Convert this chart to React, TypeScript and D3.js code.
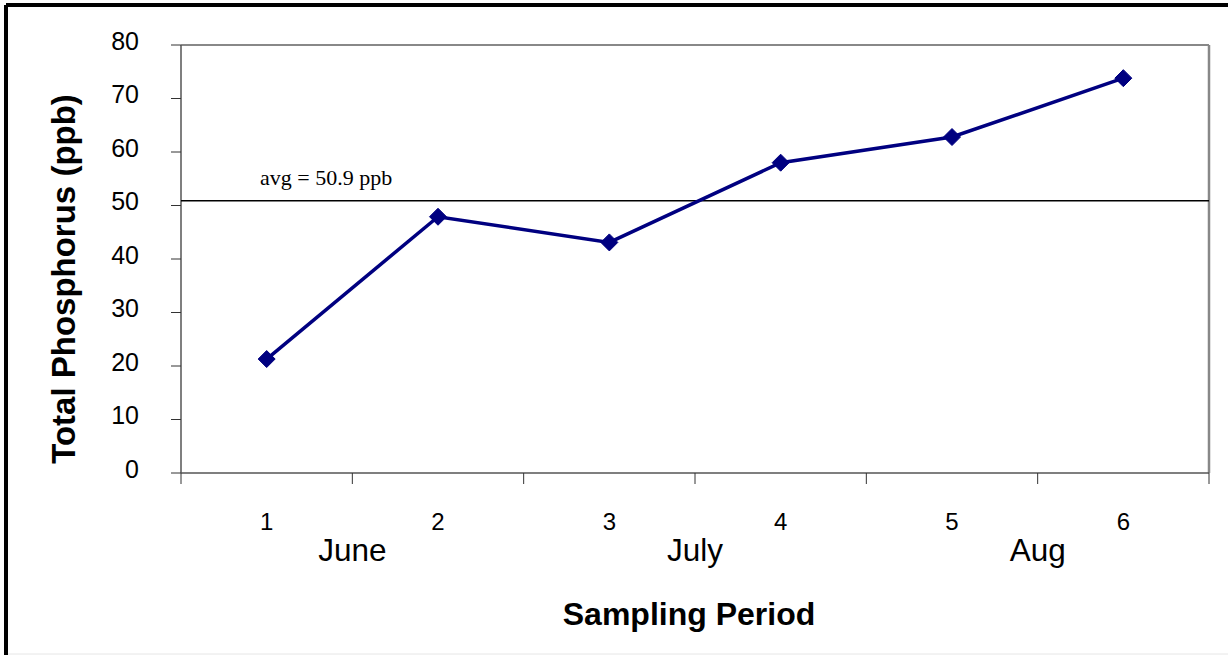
import React from "react";
import * as d3 from "d3";

const periods = ["1", "2", "3", "4", "5", "6"];
const phosphorus = [21.3, 47.9, 43.1, 58.0, 62.8, 73.8];
const months = ["June", "July", "Aug"];
const monthBoundaryIndex = [1, 3, 5];
const yTicks = [0, 10, 20, 30, 40, 50, 60, 70, 80];
const avgValue = 50.9;

export default function App() {
  const W = 1228, H = 655;
  const left = 181, right = 1209, top = 45, bottom = 473;
  const x = d3.scaleBand<string>().domain(periods).range([left, right]).padding(0);
  const y = d3.scaleLinear().domain([0, 80]).range([bottom, top]);
  const line = d3
    .line<number>()
    .x((_, i) => (x(periods[i]) as number) + x.bandwidth() / 2)
    .y((d) => y(d));
  const bw = x.bandwidth();
  const xTickPos = d3.range(periods.length + 1).map((i) => left + i * bw);
  const font = "Arial, 'Liberation Sans', sans-serif";

  return (
    <svg width={W} height={H} style={{ position: "absolute", left: 0, top: 0 }} fontFamily={font}>
      <rect x={0} y={0} width={W} height={H} fill="#fff" />
      {/* outer frame */}
      <line x1={6} y1={5} x2={W} y2={5} stroke="#000" strokeWidth={4} />
      <line x1={6} y1={5} x2={6} y2={H} stroke="#000" strokeWidth={4} />
      <line x1={8} y1={654} x2={W} y2={654} stroke="#e6e6e6" strokeWidth={1} />
      {/* plot frame */}
      <line x1={left} y1={top} x2={right} y2={top} stroke="#888" strokeWidth={2} />
      <line x1={right} y1={top} x2={right} y2={bottom} stroke="#888" strokeWidth={2.5} />
      <line x1={left} y1={top} x2={left} y2={bottom} stroke="#555" strokeWidth={1.5} />
      <line x1={left} y1={bottom} x2={right} y2={bottom} stroke="#555" strokeWidth={1.5} />
      {/* y ticks */}
      {yTicks.map((t) => (
        <g key={t}>
          <line x1={171} x2={left} y1={y(t)} y2={y(t)} stroke="#333" strokeWidth={1} />
          <text x={139} y={y(t) - 4} dy="0.35em" textAnchor="end" fontSize={25} fill="#000">
            {t}
          </text>
        </g>
      ))}
      {/* x ticks */}
      {xTickPos.map((p, i) => (
        <line key={i} x1={p} x2={p} y1={bottom} y2={bottom + 11} stroke="#333" strokeWidth={1} />
      ))}
      {periods.map((p) => (
        <text key={p} x={(x(p) as number) + bw / 2} y={530} textAnchor="middle" fontSize={24} fill="#000">
          {p}
        </text>
      ))}
      {months.map((m, i) => (
        <text key={m} x={left + monthBoundaryIndex[i] * bw} y={561} textAnchor="middle" fontSize={31.5} fill="#000">
          {m}
        </text>
      ))}
      {/* avg line */}
      <line x1={left} x2={right} y1={y(avgValue)} y2={y(avgValue)} stroke="#000" strokeWidth={1.5} />
      <text x={260} y={185} fontFamily="'Liberation Serif', 'Times New Roman', serif" fontSize={22} fill="#000">
        avg = 50.9 ppb
      </text>
      {/* series */}
      <path d={line(phosphorus) || ""} fill="none" stroke="#000080" strokeWidth={3.5} />
      {phosphorus.map((v, i) => {
        const cx = (x(periods[i]) as number) + bw / 2;
        const cy = y(v);
        const s = 8.5;
        return (
          <path
            key={i}
            d={`M${cx},${cy - s}L${cx + s},${cy}L${cx},${cy + s}L${cx - s},${cy}Z`}
            fill="#000080"
            stroke="#000080"
            strokeWidth={1}
            strokeLinejoin="round"
          />
        );
      })}
      {/* axis titles */}
      <text
        transform={`translate(75,279) rotate(-90)`}
        textAnchor="middle"
        fontSize={33}
        fontWeight="bold"
        fill="#000"
      >
        Total Phosphorus (ppb)
      </text>
      <text x={689} y={625} textAnchor="middle" fontSize={32} fontWeight="bold" fill="#000">
        Sampling Period
      </text>
    </svg>
  );
}
